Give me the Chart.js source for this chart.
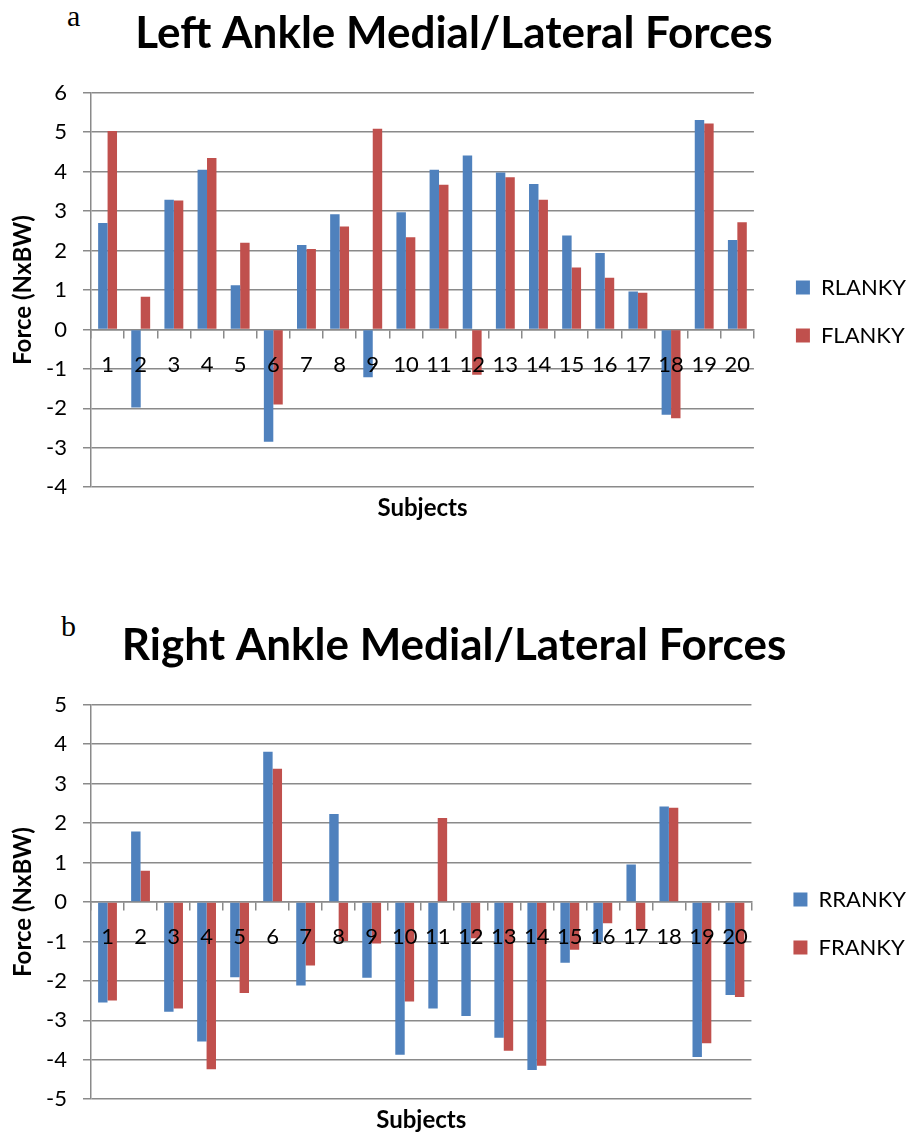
<!DOCTYPE html>
<html><head><meta charset="utf-8">
<script src="https://cdn.jsdelivr.net/npm/chart.js@4.4.1/dist/chart.umd.min.js"></script>
<style>
html,body{margin:0;padding:0;background:#fff;}
body{width:908px;height:1135px;position:relative;overflow:hidden;}
.box{position:absolute;left:0;width:908px;height:523px;}
.lbl{position:absolute;font-family:"Liberation Serif","DejaVu Serif",serif;font-size:30px;color:#000;line-height:1;}
</style></head><body>
<div class="lbl" style="left:67px;top:1px;">a</div>
<div class="box" style="top:0;"><canvas id="c1"></canvas></div>
<div class="lbl" style="left:61px;top:611px;">b</div>
<div class="box" style="top:612px;"><canvas id="c2"></canvas></div>
<script>
const categories = ['1','2','3','4','5','6','7','8','9','10','11','12','13','14','15','16','17','18','19','20'];

const leftTitle = 'Left Ankle Medial/Lateral Forces';
const leftSeriesNames = ['RLANKY', 'FLANKY'];
const leftRLANKY = [2.70, -1.98, 3.29, 4.05, 1.12, -2.85, 2.14, 2.92, -1.21, 2.97, 4.05, 4.41, 3.98, 3.69, 2.38, 1.94, 0.96, -2.16, 5.31, 2.27];
const leftFLANKY = [5.03, 0.83, 3.27, 4.35, 2.20, -1.90, 2.04, 2.61, 5.09, 2.34, 3.67, -1.15, 3.86, 3.29, 1.57, 1.31, 0.93, -2.25, 5.22, 2.72];
const leftYRange = [-4, 6];

const rightTitle = 'Right Ankle Medial/Lateral Forces';
const rightSeriesNames = ['RRANKY', 'FRANKY'];
const rightRRANKY = [-2.55, 1.79, -2.78, -3.54, -1.91, 3.81, -2.12, 2.23, -1.92, -3.87, -2.70, -2.89, -3.44, -4.26, -1.54, -1.00, 0.95, 2.42, -3.93, -2.36];
const rightFRANKY = [-2.50, 0.79, -2.70, -4.24, -2.31, 3.38, -1.61, -0.99, -1.05, -2.52, 2.13, -0.92, -3.77, -4.15, -1.21, -0.54, -0.71, 2.39, -3.58, -2.41];
const rightYRange = [-5, 5];

const yAxisTitle = 'Force (NxBW)';
const xAxisTitle = 'Subjects';

const BLUE = '#4F81BD', RED = '#C0504D', GRID = '#8a8a8a';
const FONT = 'Lato, "Open Sans", sans-serif';

function makeChart(id, title, names, rVals, fVals, yr) {
  return new Chart(document.getElementById(id), {
    type: 'bar',
    data: {
      labels: categories,
      datasets: [
        {label: names[0], data: rVals, backgroundColor: BLUE, borderWidth: 0, categoryPercentage: 0.57, barPercentage: 1.0},
        {label: names[1], data: fVals, backgroundColor: RED, borderWidth: 0, categoryPercentage: 0.57, barPercentage: 1.0}
      ]
    },
    options: {
      responsive: true,
      maintainAspectRatio: false,
      animation: false,
      layout: {padding: {top: 0, bottom: 0, left: -8, right: -8}},
      plugins: {
        tooltip: {enabled: false},
        title: {display: true, text: title, color: '#000', font: {family: FONT, size: 44, weight: 'bold', lineHeight: 1.2}, padding: {top: 7, bottom: 33}},
        subtitle: {display: true, text: xAxisTitle, position: 'bottom', fullSize: false, color: '#000', font: {family: FONT, size: 24, weight: 'bold', lineHeight: 1.2}, padding: {top: 7, bottom: 0}},
        legend: {
          position: 'right',
          align: 'center',
          title: {display: true, text: ' ', font: {size: 10, lineHeight: 1.2}, padding: {top: 44, bottom: 44}},
          labels: {color: '#000', font: {family: FONT, size: 22}, boxWidth: 14, boxHeight: 14, padding: 26}
        }
      },
      scales: {
        x: {
          position: {y: 0},
          offset: true,
          grid: {display: true, drawOnChartArea: false, drawTicks: true, tickLength: 8, color: GRID, lineWidth: 1.5, offset: true},
          border: {display: true, color: GRID, width: 1.5},
          ticks: {z: 1, color: '#000', font: {family: FONT, size: 22}, padding: 14, maxRotation: 0, autoSkip: false}
        },
        y: {
          min: yr[0], max: yr[1],
          ticks: {stepSize: 1, color: '#000', font: {family: FONT, size: 22}, padding: 16},
          grid: {color: GRID, lineWidth: 1.5, tickLength: 8},
          border: {display: true, color: GRID, width: 1.5},
          title: {display: true, text: yAxisTitle, color: '#000', font: {family: FONT, size: 24, weight: 'bold', lineHeight: 1.2}, padding: {top: 17, bottom: 0}},
          afterFit: s => { s.width = 99; }
        },
        gap: {
          position: 'right',
          display: true,
          ticks: {display: false},
          grid: {display: false},
          border: {display: false},
          afterFit: s => { s.width = 16; }
        }
      }
    }
  });
}

makeChart('c1', leftTitle, leftSeriesNames, leftRLANKY, leftFLANKY, leftYRange);
makeChart('c2', rightTitle, rightSeriesNames, rightRRANKY, rightFRANKY, rightYRange);
</script>
</body></html>
